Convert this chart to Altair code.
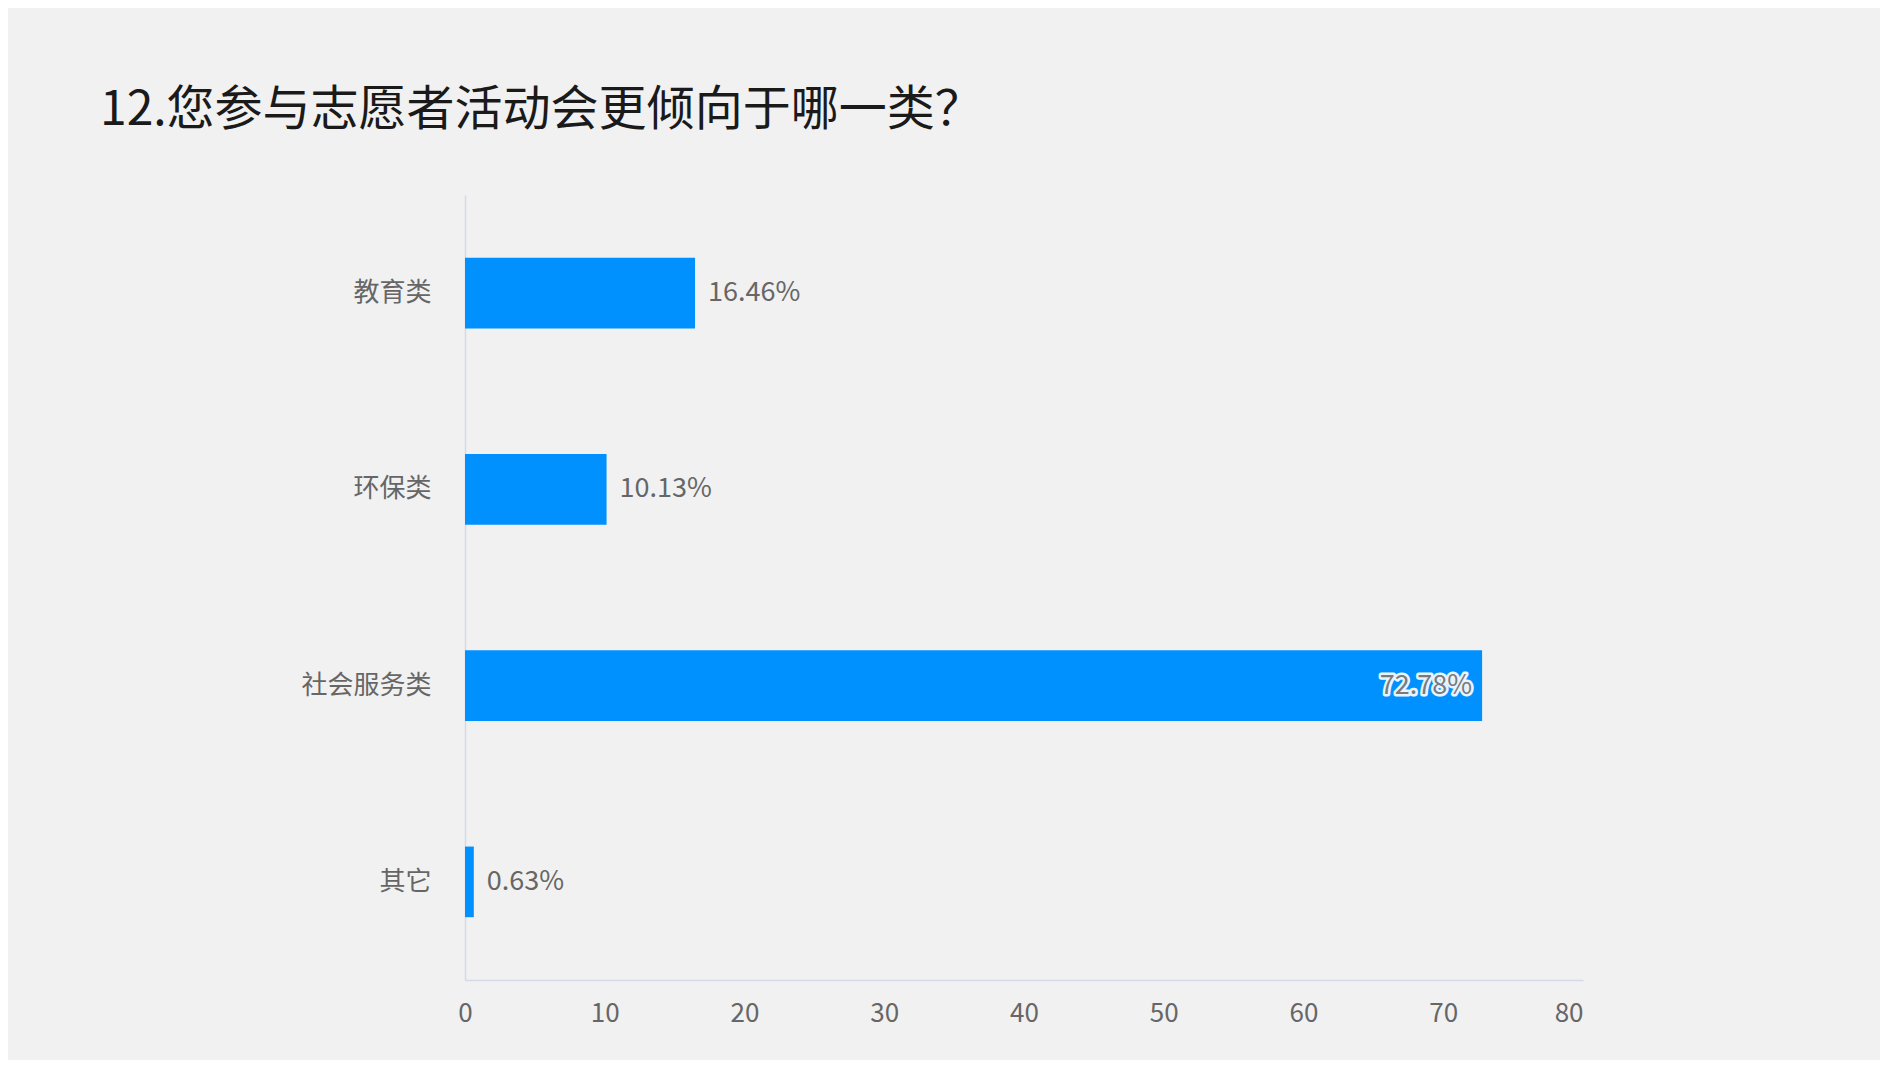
import altair as alt
import pandas as pd

categories = ["教育类", "环保类", "社会服务类", "其它"]
values = [16.46, 10.13, 72.78, 0.63]
x_ticks = [0, 10, 20, 30, 40, 50, 60, 70, 80]
title_text = "12.您参与志愿者活动会更倾向于哪一类？"

df = pd.DataFrame({"category": categories, "value": values})

FONT = "Noto Sans CJK SC"
W, H = 1118, 785

y_enc = alt.Y(
    "category:N",
    sort=categories,
    title=None,
    scale=alt.Scale(paddingInner=0.64, paddingOuter=0.32),
    axis=alt.Axis(
        labelFont=FONT,
        labelFontSize=26,
        labelColor="#666666",
        labelPadding=34,
        ticks=False,
        domainColor="#d3dbe8",
        domainWidth=1.5,
        grid=False,
    ),
)
x_enc = alt.X(
    "value:Q",
    title=None,
    scale=alt.Scale(domain=[0, 80], nice=False),
    axis=alt.Axis(
        values=x_ticks,
        labelFont=FONT,
        labelFontSize=26,
        labelColor="#666666",
        labelPadding=20,
        labelAlign={"condition": {"test": "datum.value == 80", "value": "right"}, "value": "center"},
        ticks=False,
        domainColor="#d3dbe8",
        domainWidth=1.5,
        grid=False,
    ),
)

base = alt.Chart(df).transform_calculate(
    label="format(datum.value, '.2f') + '%'"
)

bars = base.mark_bar(color="#0091FF").encode(x=x_enc, y=y_enc)

outside = base.transform_filter("datum.value < 50").mark_text(
    align="left", baseline="middle", dx=13, font=FONT, fontSize=27, color="#666666"
).encode(x="value:Q", y=alt.Y("category:N", sort=categories), text="label:N")

inside_halo = base.transform_filter("datum.value >= 50").mark_text(
    align="right", baseline="middle", dx=-10, font=FONT, fontSize=27,
    color="#e8f4ff", stroke="#e8f4ff", strokeWidth=5, strokeJoin="round"
).encode(x="value:Q", y=alt.Y("category:N", sort=categories), text="label:N")

inside = base.transform_filter("datum.value >= 50").mark_text(
    align="right", baseline="middle", dx=-10, font=FONT, fontSize=27, color="#7a7a7a"
).encode(x="value:Q", y=alt.Y("category:N", sort=categories), text="label:N")

chart = (
    alt.layer(bars, outside, inside_halo, inside)
    .properties(
        width=W,
        height=H,
        title=alt.Title(
            title_text,
            anchor="start",
            frame="group",
            dx=-365,
            offset=60,
            font=FONT,
            fontSize=48,
            fontWeight="normal",
            color="#1a1a1a",
        ),
        autosize=alt.AutoSizeParams(type="none"),
        padding={"left": 457, "top": 187, "right": 297, "bottom": 80},
        background="#f1f1f1",
    )
    .configure_view(stroke=None)
)

chart.save("out.html", embed_options={"renderer": "svg", "actions": False})
